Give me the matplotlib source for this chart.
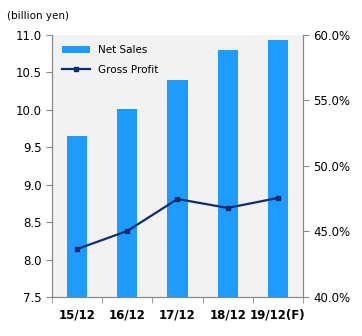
import matplotlib.pyplot as plt
import numpy as np
from matplotlib.ticker import FuncFormatter

years = ["15/12", "16/12", "17/12", "18/12", "19/12(F)"]
net_sales = [9.65, 10.01, 10.40, 10.80, 10.93]      # billion yen
gross_profit = [43.66, 45.04, 47.48, 46.80, 47.56]  # percent

plt.rcParams['font.family'] = ['DejaVu Sans']
x = np.arange(len(years))

fig = plt.figure(figsize=(3.62, 3.36), dpi=100)
ax = fig.add_axes([52 / 362, 39 / 336, 251 / 362, 262 / 336])
ax.set_facecolor("#f2f2f2")

bars = ax.bar(x, net_sales, width=0.4, color="#1e9bff", label="Net Sales", zorder=2)
ax.set_ylim(7.5, 11.0)
ax.set_xlim(-0.5, len(years) - 0.5)
ax.set_yticks(np.arange(7.5, 11.01, 0.5))
ax.yaxis.set_major_formatter(FuncFormatter(lambda v, p: f"{v:.1f}"))

ax2 = ax.twinx()
line, = ax2.plot(x, gross_profit, color="#0f2d6b", marker="s", markersize=3.5,
                 linewidth=1.6, label="Gross Profit", zorder=3)
ax2.set_ylim(40, 60)
ax2.set_yticks([40, 45, 50, 55, 60])
ax2.yaxis.set_major_formatter(FuncFormatter(lambda v, p: f"{v:.1f}%"))

# category labels in the middle, tick marks on the boundaries
ax.set_xticks(x)
ax.set_xticklabels(years, fontweight="bold", fontsize=8.5)
ax.set_xticks(np.arange(-0.5, len(years), 1), minor=True)
ax.tick_params(axis="x", which="major", length=0, pad=8)
ax.tick_params(axis="x", which="minor", length=4, color="#888888", direction="out")
ax.tick_params(axis="y", labelsize=8.5, length=4, color="#888888")
ax2.tick_params(axis="y", labelsize=8.5, length=4, color="#888888")

for a in (ax, ax2):
    a.spines["top"].set_visible(False)
    for s in ("left", "right", "bottom"):
        a.spines[s].set_color("#888888")

ax.legend([bars, line], ["Net Sales", "Gross Profit"], loc="upper left",
          frameon=False, fontsize=7.5, handlelength=2.6, borderaxespad=0.6,
          labelspacing=0.9)

fig.text(7 / 362, 1 - 16 / 336, "(billion yen)", fontsize=7.5, va="center")

fig.savefig("out.png", dpi=100)
